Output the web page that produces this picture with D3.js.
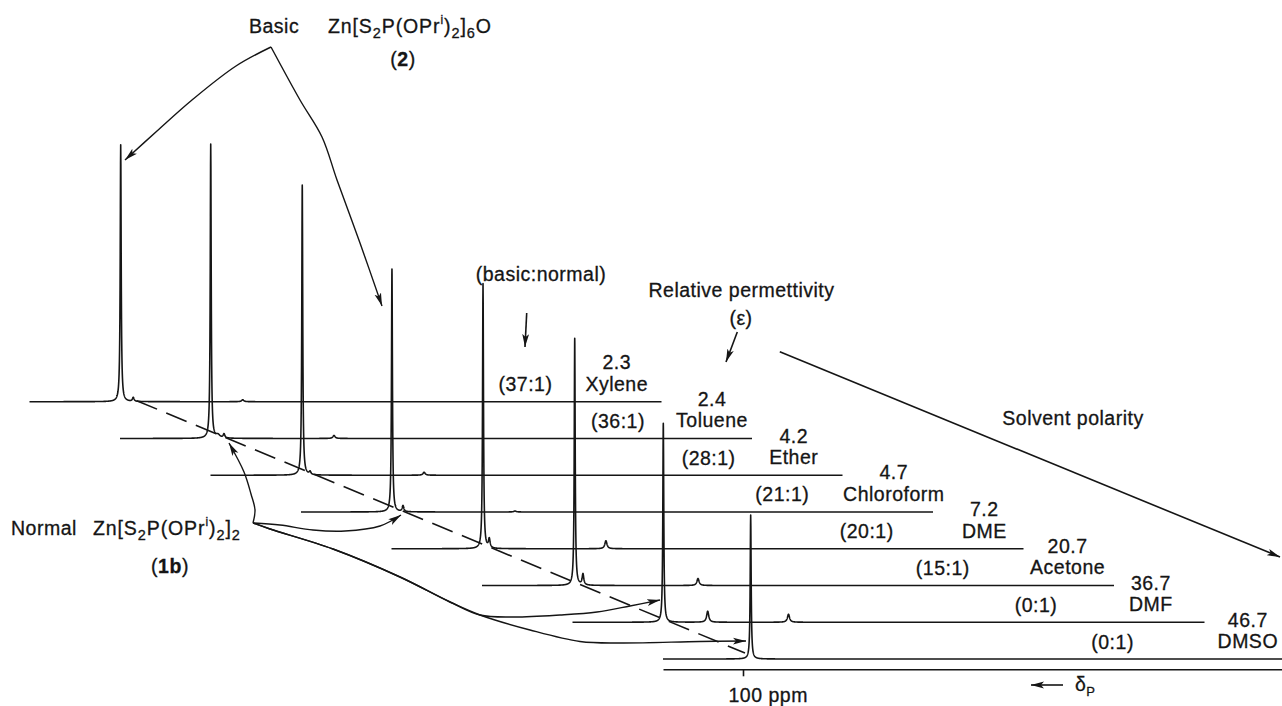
<!DOCTYPE html>
<html><head><meta charset="utf-8">
<script src="https://cdn.jsdelivr.net/npm/d3@7"></script>
<style>
html,body{margin:0;padding:0;background:#fff;}
svg{display:block;}
text{font-family:"Liberation Sans", Arial, Helvetica, sans-serif; fill:#151515; stroke:#151515; stroke-width:0.3px; font-size:19.5px; letter-spacing:0.5px;}
text.formula{letter-spacing:0.9px;}
</style></head><body>
<svg id="c" width="1282" height="706"></svg>
<script>
// ---------------- data ----------------
const solvents     = ["Xylene","Toluene","Ether","Chloroform","DME","Acetone","DMF","DMSO"];
const permittivity = ["2.3","2.4","4.2","4.7","7.2","20.7","36.7","46.7"];
const ratios       = ["(37:1)","(36:1)","(28:1)","(21:1)","(20:1)","(15:1)","(0:1)","(0:1)"];
// basic Zn[S2P(OPri)2]6O resonance (ppm, intensity)
const basicShift   = [98.60, 98.66, 98.53, 98.63, 98.56, 98.41, null, null];
const basicHeight  = [257, 294, 290, 243, 265, 247, 0, 0];
// normal Zn[S2P(OPri)2]2 resonance
const normalShift  = [97.03, 97.00, 97.56, 97.25, 97.78, 97.38, 98.65, 99.04];
const normalHeight = [4, 4, 3, 6, 9, 11, 199, 144];
// minor resonances
const minorShift   = [83.35, 83.25, 83.30, 83.25, 83.20, 83.00, 83.00, null];
const minorHeight  = [2, 3, 3, 1, 8, 7, 8, 0];
const extraShift   = [null, 97.75, null, null, null, null, 93.1, null];
const extraHeight  = [0, 3, 0, 0, 0, 0, 11, 0];
const axisTicks    = [100];
const ppmDomain    = [110, 31];

// ---------------- layout ----------------
const nameLabelPpm  = [36.6, 36.0, 37.1, 35.9, 35.9, 36.8, 37.7, 36.9];
const ratioLabelPpm = [48.0, 47.75, 47.73, 49.84, 50.6, 52.4, 52.06, 53.8];

const svg = d3.select("#c");
const ink = "#151515";
const defs = svg.append("defs");
defs.append("marker").attr("id","ah").attr("viewBox","0 0 13 8")
  .attr("refX",13).attr("refY",4).attr("markerWidth",13).attr("markerHeight",8)
  .attr("markerUnits","userSpaceOnUse").attr("orient","auto")
  .append("path").attr("d","M0,0.6 L13,4 L0,7.4 L3,4 Z").attr("fill",ink);

const x = d3.scaleLinear().domain(ppmDomain).range([0, 632]);
const y = d3.scaleLinear().domain([0, 300]).range([0, -300]);
const frameX = d3.scaleLinear().domain([0, 7]).range([29.5, 663]);
const frameY = d3.scaleLinear().domain([0, 7]).range([401.7, 659]);

function peaksOf(i){
  const p = [];
  if (basicShift[i] != null && basicHeight[i] > 0) p.push([basicShift[i], basicHeight[i], 0.07]);
  if (normalShift[i] != null) p.push([normalShift[i], normalHeight[i], normalHeight[i] > 50 ? 0.07 : 0.12]);
  if (minorShift[i] != null && minorHeight[i] > 0) p.push([minorShift[i], minorHeight[i], 0.16]);
  if (extraShift[i] != null) p.push([extraShift[i], extraHeight[i], i === 1 ? 0.3 : 0.16]);
  return p;
}
function spectrum(i){
  const pk = peaksOf(i);
  const grid = d3.range(ppmDomain[0], ppmDomain[1], -0.02).concat([ppmDomain[1]], pk.map(d => d[0]));
  grid.sort((a,b) => b - a);
  return grid.map(ppm => ({ppm, v: d3.sum(pk, ([c,h,w]) => h / (1 + ((ppm - c)/w)**2))}));
}
const line = d3.line().x(d => x(d.ppm)).y(d => y(d.v));

const spec = svg.append("g").attr("class","spectra");
solvents.forEach((s, i) => {
  const g = spec.append("g").attr("transform", `translate(${frameX(i)},${frameY(i)})`);
  g.append("path").attr("d", line(spectrum(i))).attr("fill","none")
    .attr("stroke", ink).attr("stroke-width", 1.6).attr("stroke-linejoin","round");
  const nx = x(nameLabelPpm[i]);
  g.append("text").attr("x", nx).attr("y", -11).attr("text-anchor","middle").text(s);
  g.append("text").attr("x", nx).attr("y", -32.5).attr("text-anchor","middle").text(permittivity[i]);
  g.append("text").attr("x", x(ratioLabelPpm[i])).attr("y", -10.5).attr("text-anchor","middle").text(ratios[i]);
});

// axis
const axisScale = d3.scaleLinear().domain(ppmDomain).range([frameX(7), frameX(7) + 632]);
const ax = svg.append("g").attr("transform", `translate(0,${frameY(7) + 10.3})`)
  .call(d3.axisBottom(axisScale).tickValues(axisTicks).tickSize(7).tickSizeOuter(0).tickFormat(d => d + " ppm"));
ax.attr("font-family", null).attr("font-size", null);
ax.selectAll("path, line").attr("stroke", ink).attr("stroke-width", 1.6);
ax.selectAll("text").attr("fill", ink).attr("text-anchor","start").attr("x", -15).attr("y", 32.4).attr("dy", null);

// dashed line joining normal resonances
const dashStart = [frameX(0) + x(96.6), frameY(0) - 1];
const dashEnd   = [frameX(7) + x(99.75), frameY(7) - 6];
svg.append("line").attr("x1", dashStart[0]).attr("y1", dashStart[1]).attr("x2", dashEnd[0]).attr("y2", dashEnd[1])
  .attr("stroke", ink).attr("stroke-width", 1.6).attr("stroke-dasharray","22 10");

// ---------------- annotations ----------------
function formula(sel, parts){
  parts.forEach(([t, k, w]) => {
    const ts = sel.append("tspan").text(t);
    if (w) ts.attr("font-weight","bold");
    if (k === "sub") ts.attr("font-size","14.5px").attr("dy", 5);
    if (k === "sup") ts.attr("font-size","12px").attr("dy", -9);
    if (k === "n_after_sub") ts.attr("dy", -5);
    if (k === "n_after_sup") ts.attr("dy", 9);
  });
}
svg.append("text").attr("x", 249).attr("y", 33).text("Basic");
formula(svg.append("text").attr("class","formula").attr("x", 328).attr("y", 33),
  [["Zn[S","n"],["2","sub"],["P(OPr","n_after_sub"],["i","sup"],[")","n_after_sup"],["2","sub"],["]","n_after_sub"],["6","sub"],["O","n_after_sub"]]);
formula(svg.append("text").attr("x", 403).attr("y", 66).attr("text-anchor","middle"),
  [["(","n"],["2","n",true],[")","n"]]);
svg.append("text").attr("x", 11).attr("y", 534.5).text("Normal");
formula(svg.append("text").attr("class","formula").attr("x", 93).attr("y", 534.5),
  [["Zn[S","n"],["2","sub"],["P(OPr","n_after_sub"],["i","sup"],[")","n_after_sup"],["2","sub"],["]","n_after_sub"],["2","sub"]]);
formula(svg.append("text").attr("x", 170).attr("y", 573).attr("text-anchor","middle"),
  [["(","n"],["1b","n",true],[")","n"]]);

svg.append("text").attr("x", 541).attr("y", 281).attr("text-anchor","middle").text("(basic:normal)");
svg.append("text").attr("x", 741.5).attr("y", 297).attr("text-anchor","middle").text("Relative permettivity");
svg.append("text").attr("x", 741).attr("y", 325).attr("text-anchor","middle").text("(\u03b5)");
svg.append("text").attr("x", 1073).attr("y", 425).attr("text-anchor","middle").text("Solvent polarity");
const dp = svg.append("text").attr("x", 1075).attr("y", 690.5);
dp.append("tspan").text("\u03b4");
dp.append("tspan").attr("font-size","13px").attr("dy", 5).text("P");

const arrows = [
  [[271,47],[236,66],[192,100],[157,131],[125,160]],
  [[271,47],[300,100],[322,137],[337,180],[360,243],[382,306]],
  [[253,523],[255,510],[251,494],[244,472],[229,443]],
  [[253,523],[280,525],[313,530],[345,531],[380,526],[401,515]],
  [[253,523],[270,529],[333,549],[400,577],[450,602],[480,615],[513,617],[560,615],[597,612],[630,606],[660,600]],
  [[253,523],[270,529],[333,549],[400,577],[450,602],[480,615],[530,630],[580,641.5],[620,643],[700,641.5],[746,641]],
];
const curve = d3.line().curve(d3.curveCatmullRom.alpha(0.5));
arrows.forEach(a => svg.append("path").attr("d", curve(a)).attr("fill","none")
  .attr("stroke", ink).attr("stroke-width", 1.4).attr("marker-end","url(#ah)"));

const straight = [
  [[526.7,313],[525,347]],
  [[737.3,332],[726,362]],
  [[779.8,351.8],[1280,557]],
  [[1063,685],[1031,685]],
];
straight.forEach(([a,b]) => svg.append("line").attr("x1",a[0]).attr("y1",a[1]).attr("x2",b[0]).attr("y2",b[1])
  .attr("stroke", ink).attr("stroke-width", 1.6).attr("marker-end","url(#ah)"));
</script>
</body></html>
